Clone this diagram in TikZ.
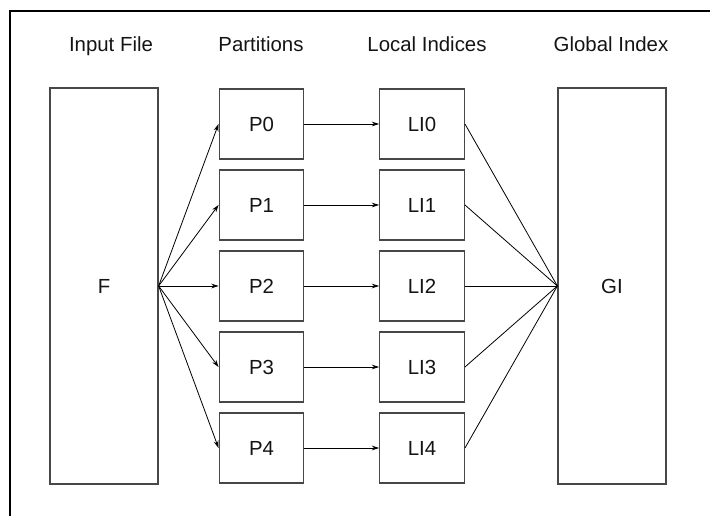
\documentclass[tikz,border=0pt]{standalone}
\usepackage{fontspec}
\setmainfont{Liberation Sans}
\usetikzlibrary{arrows.meta}
\begin{document}
\begin{tikzpicture}[x=0.75pt,y=-0.75pt,
  every node/.style={font=\fontsize{15.3pt}{18pt}\selectfont, text=black!92},
  box/.style={draw=black!72, line width=0.95pt, inner sep=0pt},
  tall/.style={box, minimum width=81pt, minimum height=297pt},
  small/.style={box, minimum width=63.5pt, minimum height=52.5pt},
  flow/.style={line width=0.6pt, -{Stealth[length=5.5pt,width=3.6pt]}},
  merge/.style={line width=0.6pt},
  heading/.style={inner sep=0pt, anchor=base}
]
\useasboundingbox (0,0) rectangle (710,516);
% frame
\draw[line width=1.1pt] (10,516) -- (10,11) -- (710,11);

% column headings
\node[heading] (hF)  at (111,51.5) {Input File};
\node[heading] (hP)  at (261,51.5) {Partitions};
\node[heading] (hLI) at (427,51.5) {Local Indices};
\node[heading] (hGI) at (611,51.5) {Global Index};

% input file and global index
\node[tall] (F)  at (104,286) {F};
\node[tall] (GI) at (612,286) {GI};

% partitions and local indices
\foreach \i in {0,...,4} {
  \node[small] (P\i)  at (261.5,124+81*\i) {P\i};
  \node[small] (LI\i) at (422,124+81*\i) {LI\i};
  \draw[flow] (F.east) -- (P\i.west);
  \draw[flow] (P\i.east) -- (LI\i.west);
  \draw[merge] (LI\i.east) -- (GI.west);
}
\end{tikzpicture}
\end{document}
